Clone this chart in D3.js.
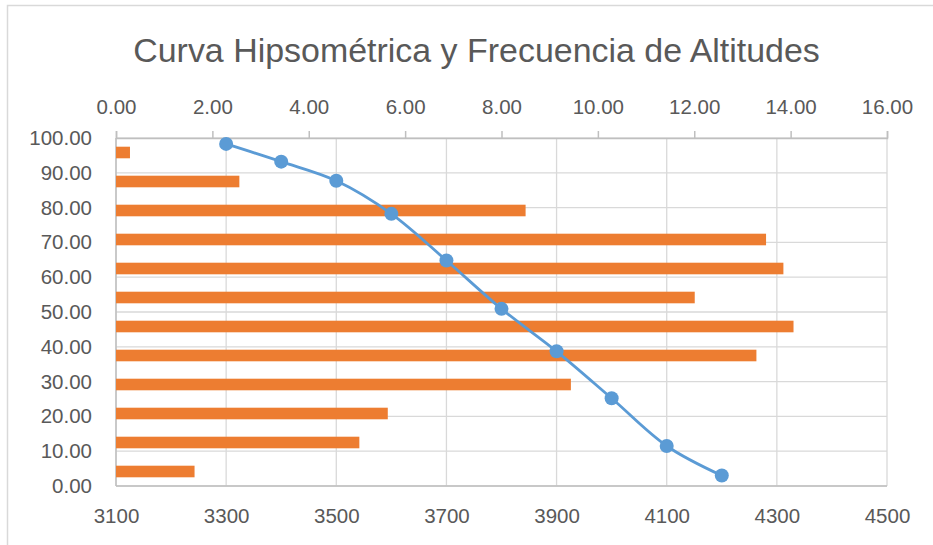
<!DOCTYPE html>
<html><head><meta charset="utf-8">
<script src="https://cdn.jsdelivr.net/npm/d3@7"></script>
<style>
html,body{margin:0;padding:0;background:#fff;}
svg{display:block;font-family:"Liberation Sans",Arial,sans-serif;}
</style></head>
<body>
<svg id="chart" width="933" height="545"></svg>
<script>
// ---- data ----
const title = "Curva Hipsométrica y Frecuencia de Altitudes";
// frequency bars (percent of area), first category drawn at bottom
const barCategories = ["1","2","3","4","5","6","7","8","9","10","11","12"];
const barValues = [1.63, 5.05, 5.64, 9.44, 13.29, 14.06, 12.01, 13.85, 13.49, 8.50, 2.56, 0.29];
// hypsometric curve
const curveAltitudes = [3300, 3400, 3500, 3600, 3700, 3800, 3900, 4000, 4100, 4200];
const curvePercent = [98.3, 93.2, 87.7, 78.2, 64.8, 50.9, 38.7, 25.2, 11.5, 3.0];
// ticks
const altTicks = [3100, 3300, 3500, 3700, 3900, 4100, 4300, 4500];
const pctTicks = [0, 10, 20, 30, 40, 50, 60, 70, 80, 90, 100];
const freqTicks = [0, 2, 4, 6, 8, 10, 12, 14, 16];

// ---- layout ----
const svg = d3.select("#chart");
const L = 116, R = 887, T = 138, B = 486;
const textColor = "#595959", gridColor = "#d9d9d9", axisColor = "#bfbfbf";

svg.append("rect").attr("x", 7.5).attr("y", 5.5).attr("width", 940).attr("height", 560)
  .attr("fill", "#fff").attr("stroke", "#d9d9d9").attr("stroke-width", 1.5);

const x = d3.scaleLinear().domain([3100, 4500]).range([L, R]);
const y = d3.scaleLinear().domain([0, 100]).range([B, T]);
const x2 = d3.scaleLinear().domain([0, 16]).range([L, R]);
const yb = d3.scaleBand().domain(barCategories).range([B, T]).paddingInner(0.6).paddingOuter(0.3);

// gridlines
const g = svg.append("g");
g.selectAll("line.h").data(pctTicks).join("line")
  .attr("x1", L).attr("x2", R).attr("y1", d => y(d)).attr("y2", d => y(d))
  .attr("stroke", gridColor).attr("stroke-width", 1.3);
g.selectAll("line.v").data(altTicks).join("line")
  .attr("y1", T).attr("y2", B).attr("x1", d => x(d)).attr("x2", d => x(d))
  .attr("stroke", gridColor).attr("stroke-width", 1.3);

// axes lines
svg.append("line").attr("x1", L).attr("x2", R).attr("y1", B).attr("y2", B).attr("stroke", axisColor).attr("stroke-width", 1.5);
svg.append("line").attr("x1", L).attr("x2", L).attr("y1", T).attr("y2", B).attr("stroke", axisColor).attr("stroke-width", 1.5);

// bars
svg.append("g").selectAll("rect").data(barValues).join("rect")
  .attr("x", x2(0)).attr("y", (d, i) => yb(barCategories[i]))
  .attr("width", d => x2(d) - x2(0)).attr("height", yb.bandwidth())
  .attr("fill", "#ED7D31");

// top axis
const topAxis = d3.axisTop(x2).tickValues(freqTicks).tickFormat(d3.format(".2f")).tickSizeOuter(0).tickSize(7).tickPadding(17);
const ta = svg.append("g").attr("transform", `translate(0,${T})`).call(topAxis);
ta.select(".domain").attr("stroke", axisColor).attr("stroke-width", 1.5);
ta.selectAll(".tick line").attr("y1", -7).attr("y2", 0).attr("stroke", axisColor).attr("stroke-width", 1.5);
ta.selectAll("text").attr("fill", textColor).attr("font-size", 20.5).attr("font-family", "Liberation Sans");

// left axis
const leftAxis = d3.axisLeft(y).tickValues(pctTicks).tickFormat(d3.format(".2f")).tickSize(0).tickPadding(24);
const la = svg.append("g").attr("transform", `translate(${L},0)`).call(leftAxis);
la.select(".domain").remove();
la.selectAll("text").attr("fill", textColor).attr("font-size", 20.5).attr("font-family", "Liberation Sans");

// bottom axis
const botAxis = d3.axisBottom(x).tickValues(altTicks).tickFormat(d3.format("d")).tickSize(0).tickPadding(22);
const ba = svg.append("g").attr("transform", `translate(0,${B})`).call(botAxis);
ba.select(".domain").remove();
ba.selectAll("text").attr("fill", textColor).attr("font-size", 20.5).attr("font-family", "Liberation Sans");

// curve
const pts = curveAltitudes.map((a, i) => [a, curvePercent[i]]);
const line = d3.line().x(d => x(d[0])).y(d => y(d[1])).curve(d3.curveCatmullRom.alpha(0.5));
svg.append("path").datum(pts).attr("d", line).attr("fill", "none")
  .attr("stroke", "#5B9BD5").attr("stroke-width", 2.8).attr("stroke-linejoin", "round");
svg.append("g").selectAll("circle").data(pts).join("circle")
  .attr("cx", d => x(d[0])).attr("cy", d => y(d[1])).attr("r", 7)
  .attr("fill", "#5B9BD5");

// title
const t = svg.append("text").attr("x", 476.5).attr("y", 62).attr("text-anchor", "middle")
  .attr("fill", textColor).attr("font-size", 32).text(title);
const w = t.node().getComputedTextLength();
t.attr("font-size", 32 * 687 / w);
</script>
</body></html>
